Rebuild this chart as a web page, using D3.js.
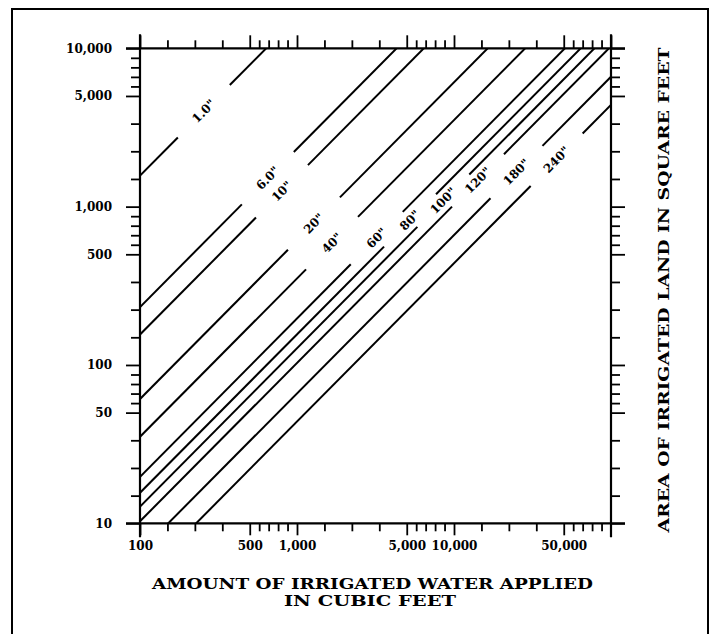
<!DOCTYPE html>
<html><head><meta charset="utf-8">
<script src="https://cdn.jsdelivr.net/npm/d3@7"></script>
<style>body{margin:0;background:#fff} svg{display:block}</style>
</head><body>
<svg id="c" width="721" height="634"></svg>
<script>
// ---- data ----
const depthLabels = ['1.0"','6.0"','10"','20"','40"','60"','80"','100"','120"','180"','240"'];
// square feet of land per cubic foot of water, one straight line per depth
const areaPerCubicFoot = [15.7, 2.32, 1.557, 0.610, 0.352, 0.1966, 0.156, 0.1275, 0.103, 0.0661, 0.0439];
// cubic feet at which each line's label sits
const labelAtCubicFeet = [255, 652, 802, 1282, 1671, 3221, 5248, 8551, 14220, 25000, 45070];
const xTickValues = [100, 500, 1000, 5000, 10000, 50000];
const xTickLabels = ['100','500','1,000','5,000','10,000','50,000'];
const yTickValues = [10, 50, 100, 500, 1000, 5000, 10000];
const yTickLabels = ['10','50','100','500','1,000','5,000','10,000'];
const xDomain = [100, 100000];
const yDomain = [10, 10000];
const xTitle = ['AMOUNT OF IRRIGATED WATER APPLIED', 'IN CUBIC FEET'];
const yTitle = 'AREA OF IRRIGATED LAND IN SQUARE FEET';

// ---- layout ----
const svg = d3.select('#c');
const L = 140, R = 611, T = 48.3, B = 523.3;
const x = d3.scaleLog().domain(xDomain).range([L, R]);
const y = d3.scaleLog().domain(yDomain).range([B, T]);
const font = '"DejaVu Serif", "Liberation Serif", serif';
const ink = '#000';

// frame around the figure
svg.append('path').attr('d', 'M12,640V9H708V640')
  .attr('fill', 'none').attr('stroke', ink).attr('stroke-width', 2);

// minor ticks: 4 equal steps between a and 5a, 5 equal steps between 5a and 10a
function minorTicks(domain) {
  const out = [];
  for (let a = domain[0]; a < domain[1]; a *= 10) {
    for (let i = 1; i <= 3; i++) out.push(a * Math.pow(5, i / 4));
    for (let i = 1; i <= 4; i++) out.push(5 * a * Math.pow(2, i / 5));
  }
  return out;
}
const xMajor = xTickValues.concat([xDomain[1]]);
const yMajor = yTickValues;
const xMinor = minorTicks(xDomain);
const yMinor = minorTicks(yDomain);

function styleAxis(g) {
  g.select('.domain').remove();
  g.selectAll('line').attr('stroke', ink).attr('stroke-width', 1.8);
  g.selectAll('text').attr('font-family', font).attr('font-weight', 'bold')
    .attr('font-size', 12).attr('fill', ink);
}
const noLab = () => '';
// bottom
svg.append('g').attr('transform', `translate(0,${B})`)
  .call(d3.axisBottom(x).tickValues(xMinor).tickSize(8).tickSizeOuter(0).tickFormat(noLab)).call(styleAxis);
svg.append('g').attr('transform', `translate(0,${B})`)
  .call(d3.axisBottom(x).tickValues(xTickValues).tickSize(12).tickSizeOuter(0).tickPadding(6)
    .tickFormat((d, i) => xTickLabels[i])).call(styleAxis);
// top
svg.append('g').attr('transform', `translate(0,${T})`)
  .call(d3.axisTop(x).tickValues(xMinor).tickSize(8).tickSizeOuter(0).tickFormat(noLab)).call(styleAxis);
svg.append('g').attr('transform', `translate(0,${T})`)
  .call(d3.axisTop(x).tickValues(xMajor).tickSize(13).tickSizeOuter(0).tickFormat(noLab)).call(styleAxis);
// left
svg.append('g').attr('transform', `translate(${L},0)`)
  .call(d3.axisLeft(y).tickValues(yMinor).tickSize(9).tickSizeOuter(0).tickFormat(noLab)).call(styleAxis);
svg.append('g').attr('transform', `translate(${L},0)`)
  .call(d3.axisLeft(y).tickValues(yMajor).tickSize(14).tickSizeOuter(0).tickPadding(14)
    .tickFormat((d, i) => yTickLabels[i])).call(styleAxis);
// right
svg.append('g').attr('transform', `translate(${R},0)`)
  .call(d3.axisRight(y).tickValues(yMinor).tickSize(9).tickSizeOuter(0).tickFormat(noLab)).call(styleAxis);
svg.append('g').attr('transform', `translate(${R},0)`)
  .call(d3.axisRight(y).tickValues(yMajor).tickSize(14).tickSizeOuter(0).tickFormat(noLab)).call(styleAxis);

// axis lines, overshooting the corners
const ov = 14;
const axisLines = [
  [L, T - ov, L, B + ov], [R, T - ov, R, B + ov],
  [L - ov, T, R + ov, T], [L - ov, B, R + ov, B]
];
svg.append('g').selectAll('line').data(axisLines).join('line')
  .attr('x1', d => d[0]).attr('y1', d => d[1]).attr('x2', d => d[2]).attr('y2', d => d[3])
  .attr('stroke', ink).attr('stroke-width', 2.2);

// clip for data lines
svg.append('clipPath').attr('id', 'plot').append('rect')
  .attr('x', L).attr('y', T).attr('width', R - L).attr('height', B - T);

const gap = 1.464; // half gap around a label, as a factor in cubic feet
const line = d3.line().x(d => x(d[0])).y(d => y(d[1]));
const segs = [];
areaPerCubicFoot.forEach((k, i) => {
  const c = labelAtCubicFeet[i];
  segs.push([[xDomain[0] / 10, k * xDomain[0] / 10], [c / gap, k * c / gap]]);
  segs.push([[c * gap, k * c * gap], [xDomain[1] * 10, k * xDomain[1] * 10]]);
});
svg.append('g').attr('clip-path', 'url(#plot)').selectAll('path').data(segs).join('path')
  .attr('d', line).attr('fill', 'none').attr('stroke', ink).attr('stroke-width', 2);

// line labels
const ang = -Math.atan((y(yDomain[0]) - y(yDomain[0] * 10)) / (x(xDomain[0] * 10) - x(xDomain[0]))) * 180 / Math.PI;
svg.append('g').selectAll('text').data(depthLabels).join('text')
  .attr('transform', (d, i) => {
    const c = labelAtCubicFeet[i];
    return `translate(${x(c)},${y(areaPerCubicFoot[i] * c)}) rotate(${ang})`;
  })
  .attr('text-anchor', 'middle').attr('dominant-baseline', 'central')
  .attr('font-family', font).attr('font-weight', 'bold').attr('font-size', 12)
  .attr('fill', ink).text(d => d);

// axis titles
svg.append('text').attr('x', 372.5).attr('y', 589).attr('text-anchor', 'middle')
  .attr('font-family', font).attr('font-weight', 'bold').attr('font-size', 15)
  .attr('textLength', 441).attr('lengthAdjust', 'spacingAndGlyphs').attr('fill', ink).text(xTitle[0]);
svg.append('text').attr('x', 370).attr('y', 606).attr('text-anchor', 'middle')
  .attr('font-family', font).attr('font-weight', 'bold').attr('font-size', 15)
  .attr('textLength', 172).attr('lengthAdjust', 'spacingAndGlyphs').attr('fill', ink).text(xTitle[1]);
svg.append('text').attr('transform', 'translate(669,290) rotate(-90)').attr('text-anchor', 'middle')
  .attr('font-family', font).attr('font-weight', 'bold').attr('font-size', 15)
  .attr('textLength', 485).attr('lengthAdjust', 'spacingAndGlyphs').attr('fill', ink).text(yTitle);
</script>
</body></html>
